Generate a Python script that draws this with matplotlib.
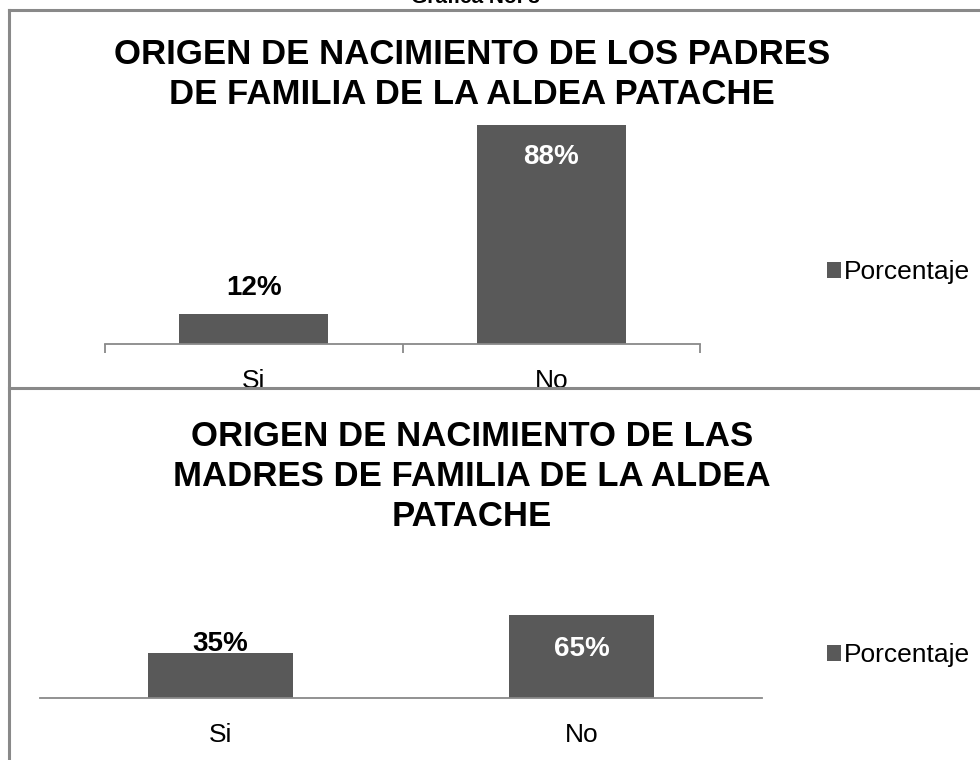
import matplotlib
matplotlib.use("Agg")
import matplotlib.pyplot as plt
from matplotlib.patches import Rectangle
from matplotlib.lines import Line2D

plt.rcParams['font.family'] = ['Liberation Sans', 'DejaVu Sans']

# datos
categorias = ["Si", "No"]
padres = [12, 88]
madres = [35, 65]
serie = "Porcentaje"
titulo_padres = "ORIGEN DE NACIMIENTO DE LOS PADRES\nDE FAMILIA DE LA ALDEA PATACHE"
titulo_madres = "ORIGEN DE NACIMIENTO DE LAS\nMADRES DE FAMILIA DE LA ALDEA\nPATACHE"
encabezado = "Grafica No. 3"

W, H = 980, 760
BAR = "#595959"
GRIS = "#898989"


def fx(px):
    return px / W


def fy(py):
    return 1 - py / H


def box(x0, y0, x1, y1):
    # pixel box -> axes rect
    return [fx(x0), fy(y1), fx(x1) - fx(x0), fy(y0) - fy(y1)]


fig = plt.figure(figsize=(9.8, 7.6), dpi=100)

# ---- grafica de padres
ax1 = fig.add_axes(box(105, 344 - 248.9, 700, 344), zorder=0)
x = range(len(categorias))
ax1.bar(x, padres, width=0.5, color=BAR, label=serie)
ax1.set_xlim(-0.5, 1.5)
ax1.set_ylim(0, 100)
for s in ["top", "left", "right"]:
    ax1.spines[s].set_visible(False)
ax1.spines["bottom"].set_color(GRIS)
ax1.spines["bottom"].set_linewidth(1.3)
ax1.set_yticks([])
ax1.set_xticks([-0.5, 0.5, 1.5])
ax1.set_xticklabels([])
ax1.tick_params(axis="x", which="major", length=6.5, width=1.3, color=GRIS)
ax1.set_xticks(list(x), minor=True)
ax1.set_xticklabels(categorias, minor=True, fontsize=19)
ax1.tick_params(axis="x", which="minor", length=0, pad=18)

ax1.text(0, padres[0] + 10.5, f"{padres[0]}%", ha="center", va="center",
         fontsize=20, fontweight="bold", color="black")
ax1.text(1, padres[1] - 12.9, f"{padres[1]}%", ha="center", va="center",
         fontsize=20, fontweight="bold", color="white")
ax1.legend(loc="center left", bbox_to_anchor=(fx(816), fy(272)),
           bbox_transform=fig.transFigure, frameon=False, fontsize=19,
           handlelength=0.55, handleheight=0.55, handletextpad=0.1,
           borderaxespad=0)

fig.text(fx(472), fy(55), titulo_padres.split("\n")[0], ha="center", va="center",
         fontsize=25, fontweight="bold")
fig.text(fx(472), fy(94), titulo_padres.split("\n")[1], ha="center", va="center",
         fontsize=25, fontweight="bold")

# tapa la parte baja de la primera grafica
fig.add_artist(Rectangle((0, 0), 1, fy(388), transform=fig.transFigure,
                         facecolor="white", edgecolor="none", zorder=1))

# ---- grafica de madres
ax2 = fig.add_axes(box(40, 697.7 - 127.2, 762, 697.7), zorder=2)
ax2.bar(x, madres, width=0.4, color=BAR, label=serie)
ax2.set_xlim(-0.5, 1.5)
ax2.set_ylim(0, 100)
for s in ["top", "left", "right"]:
    ax2.spines[s].set_visible(False)
ax2.spines["bottom"].set_color(GRIS)
ax2.spines["bottom"].set_linewidth(1.3)
ax2.set_yticks([])
ax2.set_xticks(list(x))
ax2.set_xticklabels(categorias, fontsize=19)
ax2.tick_params(axis="x", length=0, pad=18)
ax2.patch.set_alpha(0)

ax2.text(0, madres[0] + 7.5, f"{madres[0]}%", ha="center", va="center",
         fontsize=20, fontweight="bold", color="black")
ax2.text(1, madres[1] - 26.7, f"{madres[1]}%", ha="center", va="center",
         fontsize=20, fontweight="bold", color="white")
ax2.legend(loc="center left", bbox_to_anchor=(fx(816), fy(655)),
           bbox_transform=fig.transFigure, frameon=False, fontsize=19,
           handlelength=0.55, handleheight=0.55, handletextpad=0.1,
           borderaxespad=0)

for i, linea in enumerate(titulo_madres.split("\n")):
    fig.text(fx(472), fy(437 + 40 * i), linea, ha="center", va="center",
             fontsize=25, fontweight="bold", zorder=3)

# marcos
for xs, ys in [([9, 9], [10, 760]), ([9, 980], [10, 10]), ([9, 980], [388, 388])]:
    fig.add_artist(Line2D([fx(v) for v in xs], [fy(v) for v in ys],
                          transform=fig.transFigure, color=GRIS, lw=2.2, zorder=4))

fig.text(fx(475), fy(3), encabezado, ha="center", va="baseline",
         fontsize=15, fontweight="bold")

fig.savefig("out.png", dpi=100)
